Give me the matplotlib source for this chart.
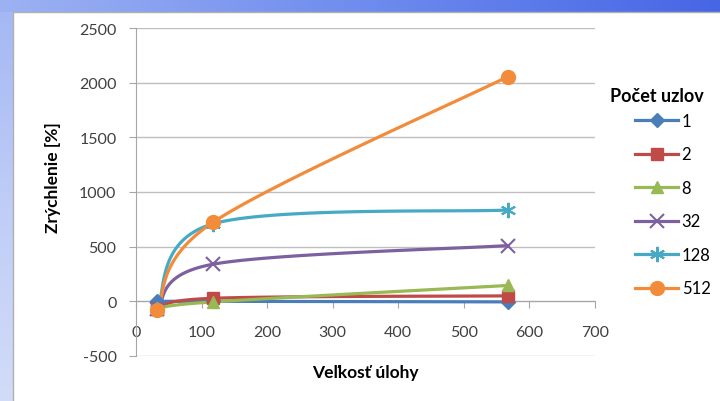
import numpy as np
import matplotlib
matplotlib.use("Agg")
import matplotlib.pyplot as plt
from matplotlib.lines import Line2D
from matplotlib.colors import LinearSegmentedColormap

# ---- data ----
task_size = [32, 118, 567]
series_names = ["1", "2", "8", "32", "128", "512"]
speedup_1 = [0, 0, -5]
speedup_2 = [-70, 28, 50]
speedup_8 = [-70, -5, 145]
speedup_32 = [-70, 340, 510]
speedup_128 = [-70, 710, 835]
speedup_512 = [-80, 725, 2055]
x_ticks = [0, 100, 200, 300, 400, 500, 600, 700]
y_ticks = [-500, 0, 500, 1000, 1500, 2000, 2500]

all_series = [speedup_1, speedup_2, speedup_8, speedup_32, speedup_128, speedup_512]
colors = ["#4A7EBB", "#BE4B48", "#98B954", "#7D60A0", "#46AAC5", "#F38C3A"]
markers = ["D", "s", "^", "x", (6, 2, 0), "o"]
msizes = [7, 9, 9, 10, 11, 10]

FONT = ["Lato", "DejaVu Sans"]
plt.rcParams["font.family"] = FONT
plt.rcParams["axes.unicode_minus"] = False


def smooth(xs, ys, n=60):
    """Excel-like smoothed line (Catmull-Rom style cubic Bezier)."""
    P = np.column_stack([xs, ys]).astype(float)
    m = len(P)
    out = []
    for i in range(m - 1):
        p0 = P[i - 1] if i > 0 else P[i]
        p1 = P[i]
        p2 = P[i + 1]
        p3 = P[i + 2] if i + 2 < m else P[i + 1]
        c1 = p1 + (p2 - p0) / 6.0
        c2 = p2 - (p3 - p1) / 6.0
        t = np.linspace(0, 1, n)[:, None]
        seg = ((1 - t) ** 3) * p1 + 3 * ((1 - t) ** 2) * t * c1 + 3 * (1 - t) * t ** 2 * c2 + t ** 3 * p2
        out.append(seg if i == 0 else seg[1:])
    arr = np.vstack(out)
    return arr[:, 0], arr[:, 1]


fig = plt.figure(figsize=(7.2, 4.02), dpi=100)
fig.patch.set_facecolor("white")

# background frame: blue gradient top band and left band
bg = fig.add_axes([0, 0, 1, 1], zorder=-10)
cm_top = LinearSegmentedColormap.from_list("t", ["#9DB2F3", "#6F8CEE", "#4766E6"])
bg.imshow(np.linspace(0, 1, 256)[None, :], extent=[0, 720, 13, 0], cmap=cm_top, aspect="auto")
cm_left = LinearSegmentedColormap.from_list("l", ["#A4B8F4", "#BFCDF7", "#D2DCF9"])
bg.imshow(np.linspace(0, 1, 256)[:, None], extent=[0, 13, 402, 13], cmap=cm_left, aspect="auto")
bg.plot([13, 720], [13, 13], color="#B0B0B0", lw=1)
bg.plot([13, 13], [13, 402], color="#B0B0B0", lw=1)
bg.set_xlim(0, 720)
bg.set_ylim(402, 0)
bg.axis("off")

ax = fig.add_axes([136 / 720, 1 - 357 / 402, (595 - 136) / 720, (357 - 29) / 402])
ax.set_xlim(0, 700)
ax.set_ylim(-500, 2500)
ax.set_facecolor("none")

ax.set_yticks(y_ticks)
ax.set_xticks(x_ticks)
ax.yaxis.grid(True, color="#BFBFBF", lw=1)
ax.set_axisbelow(True)
for s in ["top", "right"]:
    ax.spines[s].set_visible(False)
ax.spines["bottom"].set_position(("data", 0))
ax.spines["bottom"].set_color("#A6A6A6")
ax.spines["left"].set_color("#A6A6A6")
ax.tick_params(axis="y", length=5, color="#A6A6A6", labelsize=11.5, labelcolor="#404040", pad=9)
ax.tick_params(axis="x", length=5, color="#A6A6A6", labelsize=11.5, labelcolor="#404040", pad=12)

handles = []
for name, vals, c, mk, ms in zip(series_names, all_series, colors, markers, msizes):
    sx, sy = smooth(task_size, vals)
    ax.plot(sx, sy, color=c, lw=2.3, solid_capstyle="round", zorder=3)
    mew = 1.5 if mk in ("x",) or isinstance(mk, tuple) else 1
    ax.plot(task_size, vals, linestyle="none", marker=mk, color=c, ms=ms, mew=mew, zorder=4)
    handles.append(Line2D([], [], color=c, lw=2.3, marker=mk, ms=ms, mew=mew, label=name))

ax.set_xlabel("Veľkosť úlohy", fontsize=12.5, fontweight="bold", color="#000000")
ax.xaxis.set_label_coords((365 - 136) / (595 - 136), (357 - 373) / (357 - 29))
ax.set_ylabel("Zrýchlenie [%]", fontsize=12.5, fontweight="bold", color="#000000")
ax.yaxis.set_label_coords((53 - 136) / (595 - 136), (357 - 178) / (357 - 29))
ax.xaxis.label.set_va("center")
ax.yaxis.label.set_va("center")

fig.text(610 / 720, 1 - 97 / 402, "Počet uzlov", fontsize=13, fontweight="bold",
         ha="left", va="center", color="#000000")
leg = fig.legend(handles=handles, loc="upper left",
                 bbox_to_anchor=(635 / 720, 1 - 114 / 402), frameon=False,
                 fontsize=12, borderpad=0, borderaxespad=0,
                 handlelength=2.6, handletextpad=0.2, labelspacing=1.05)

fig.savefig("out.png", dpi=100)
